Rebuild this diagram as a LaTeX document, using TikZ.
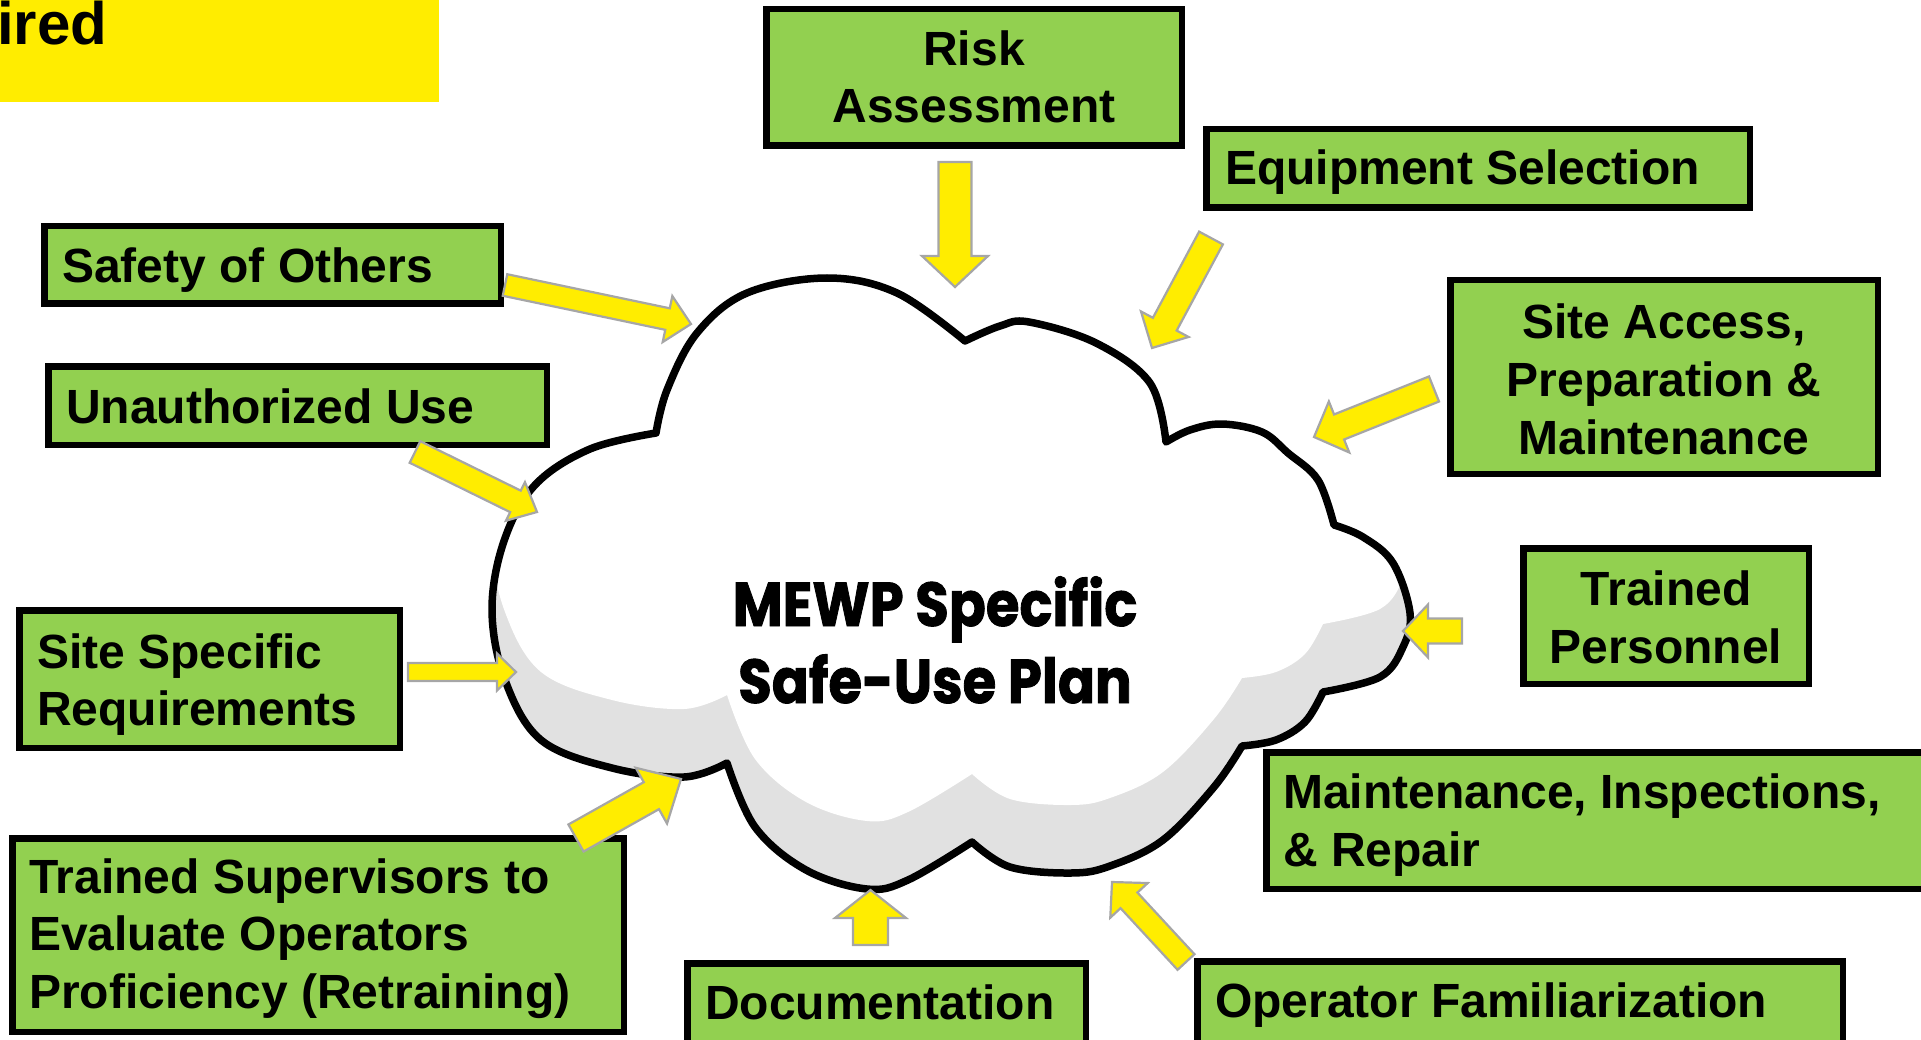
\documentclass[tikz,border=0pt]{standalone}
\usepackage{fontspec}
\setmainfont{Liberation Sans}
\newfontfamily\cloudfont{Poppins}[BoldFeatures={FakeBold=1.5}]
\usetikzlibrary{calc}

\definecolor{boxgreen}{RGB}{146,208,80}
\definecolor{signyellow}{RGB}{255,237,0}
\definecolor{arrowedge}{RGB}{166,166,166}
\definecolor{cloudshade}{RGB}{225,225,225}

% outline of the cloud, one smooth arc per puff, joined at the cusps
\newcommand\cloudoutline{%
  plot[smooth, tension=0.6] coordinates {(656,433) (667,390) (697,333) (747,293) (827,278) (897,293) (965,341)}
  -- plot[smooth, tension=0.6] coordinates {(965,341) (1000,326) (1029,322) (1096,343) (1150,383) (1166,442)}
  -- plot[smooth, tension=0.6] coordinates {(1166,442) (1190,430) (1222,424) (1262,432) (1288,453) (1318,480) (1334,525)}
  -- plot[smooth, tension=0.6] coordinates {(1334,525) (1363,537) (1393,563) (1410,613) (1403,647) (1380,677) (1323,692)}
  -- plot[smooth, tension=0.6] coordinates {(1323,692) (1305,722) (1276,740) (1242,746)}
  -- plot[smooth, tension=0.6] coordinates {(1242,746) (1214,787) (1163,840) (1110,866) (1071,873) (1010,867) (972,842)}
  -- plot[smooth, tension=0.6] coordinates {(972,842) (908,880) (867,889) (806,870) (755,827) (727,763)}
  -- plot[smooth, tension=0.6] coordinates {(727,763) (684,777) (612,768) (541,740) (505,680) (492,610) (504,541) (535,485) (590,449) (656,433)}
  -- cycle}

% block arrow from coordinate #1 to coordinate #2:
% #3 shaft width, #4 head width, #5 head length
\newcommand\blockarrow[5]{%
  \pgfpointdiff{\pgfpointanchor{#1}{center}}{\pgfpointanchor{#2}{center}}%
  \pgfgetlastxy{\ArwDx}{\ArwDy}%
  \pgfmathsetmacro\ArwAng{atan2(\ArwDy,\ArwDx)}%
  \pgfmathsetmacro\ArwLen{veclen(\ArwDx,\ArwDy)}%
  \filldraw[blockarrowstyle, shift={(#1)}, rotate=\ArwAng]
    (0,{-#3/2}) -- ({\ArwLen-#5},{-#3/2}) -- ({\ArwLen-#5},{-#4/2}) -- (\ArwLen,0)
    -- ({\ArwLen-#5},{#4/2}) -- ({\ArwLen-#5},{#3/2}) -- (0,{#3/2}) -- cycle;
}

\tikzset{
  greenbox/.style={draw=black, line width=6.5pt, fill=boxgreen, inner sep=0pt, outer sep=0pt},
  boxtext/.style={font=\fontsize{48}{57.6}\selectfont\bfseries, inner sep=0pt, anchor=base west, align=left},
  boxtextc/.style={boxtext, anchor=base, align=center},
  blockarrowstyle/.style={fill=signyellow, draw=arrowedge, line width=2.2pt, line join=miter},
}

\begin{document}
\begin{tikzpicture}[x=1pt, y=-1pt]
\useasboundingbox (0,0) rectangle (1921,1040);

% title banner, cut at the page edge
\node[fill=signyellow, minimum width=439pt, minimum height=102pt, anchor=north west, inner sep=0pt] (banner) at (0,0) {};
\node[font=\fontsize{60}{72}\selectfont\bfseries, inner sep=0pt, anchor=base west] (bannertext) at (-3,45) {ired};

% cloud with its shaded lower part
\fill[cloudshade] \cloudoutline;
\begin{scope}
  \clip \cloudoutline;
  \fill[white, yshift=68pt] \cloudoutline;
\end{scope}
\draw[line width=7.5pt, line join=round] \cloudoutline;
% (base anchor of a multi-line node sits on its last line)
\node[font={\fontsize{62}{77}\selectfont\cloudfont\bfseries}, align=center, anchor=base, inner sep=0pt,
      xscale=0.88, transform shape] (plan) at (935,703) {MEWP Specific\\Safe-Use Plan};

% boxes
\node[greenbox, minimum width=415.5pt, minimum height=136.5pt] (bRisk) at (974,77.5) {};
\node[greenbox, minimum width=543.5pt, minimum height=78.5pt] (bEquip) at (1478,168.5) {};
\node[greenbox, minimum width=456.5pt, minimum height=77.5pt] (bSafety) at (272.5,265) {};
\node[greenbox, minimum width=427.5pt, minimum height=193.5pt] (bAccess) at (1664,377) {};
\node[greenbox, minimum width=498.5pt, minimum height=78.5pt] (bUnauth) at (297.5,405.5) {};
\node[greenbox, minimum width=285.5pt, minimum height=135.5pt] (bPersonnel) at (1666,616) {};
\node[greenbox, minimum width=380.5pt, minimum height=137.5pt] (bSite) at (209.5,679) {};
\node[greenbox, minimum width=665.5pt, minimum height=136.5pt] (bMaint) at (1599,820.5) {};
\node[greenbox, minimum width=611.5pt, minimum height=193.5pt] (bSuperv) at (318,935) {};
\node[greenbox, minimum width=398.5pt, minimum height=79.5pt] (bDoc) at (886.5,1003) {};
\node[greenbox, minimum width=645.5pt, minimum height=81.5pt] (bFamil) at (1520,1002) {};

% box labels (positions are the baseline of the last line)
\node[boxtextc] (tRisk) at (974,123) {Risk\\Assessment};
\node[boxtext] (tEquip) at (1225,185) {Equipment Selection};
\node[boxtext] (tSafety) at (62,283) {Safety of Others};
\node[boxtextc] (tAccess) at (1664,454) {Site Access,\\Preparation \&\\Maintenance};
\node[boxtext] (tUnauth) at (66,423) {Unauthorized Use};
\node[boxtextc] (tPersonnel) at (1666,663) {Trained\\Personnel};
\node[boxtext] (tSite) at (37,725.6) {Site Specific\\Requirements};
\node[boxtext] (tMaint) at (1283,866) {Maintenance, Inspections,\\\& Repair};
\node[boxtext] (tSuperv) at (29,1008.2) {Trained Supervisors to\\Evaluate Operators\\Proficiency (Retraining)};
\node[boxtext] (tDoc) at (705,1019) {Documentation};
\node[boxtext] (tFamil) at (1215,1017) {Operator Familiarization};

% arrow ends
\coordinate (aRiskS) at (955,162);   \coordinate (aRiskE) at (955,287);
\coordinate (aEquipS) at (1211,238); \coordinate (aEquipE) at (1152,348);
\coordinate (aAccessS) at (1434,389); \coordinate (aAccessE) at (1314,437);
\coordinate (aSafetyS) at (505,285); \coordinate (aSafetyE) at (691,324);
\coordinate (aUnauthS) at (415,452); \coordinate (aUnauthE) at (537,512);
\coordinate (aSiteS) at (408,672);   \coordinate (aSiteE) at (516,672);
\coordinate (aSupervS) at (576,838); \coordinate (aSupervE) at (681,779);
\coordinate (aDocS) at (870.5,945);  \coordinate (aDocE) at (870.5,890);
\coordinate (aFamilS) at (1186,962); \coordinate (aFamilE) at (1112,882);
\coordinate (aPersS) at (1462,631);  \coordinate (aPersE) at (1403,631);

% arrows into the cloud
\blockarrow{aRiskS}{aRiskE}{33}{66}{31}
\blockarrow{aEquipS}{aEquipE}{27}{54}{27}
\blockarrow{aAccessS}{aAccessE}{27}{55}{27}
\blockarrow{aSafetyS}{aSafetyE}{22}{47}{24}
\blockarrow{aUnauthS}{aUnauthE}{24}{43}{24}
\blockarrow{aSiteS}{aSiteE}{18}{37}{19}
\blockarrow{aSupervS}{aSupervE}{31}{64}{34}
\blockarrow{aDocS}{aDocE}{35}{71}{28}
\blockarrow{aFamilS}{aFamilE}{23}{51}{25}
\blockarrow{aPersS}{aPersE}{25}{53}{25}
\end{tikzpicture}
\end{document}
